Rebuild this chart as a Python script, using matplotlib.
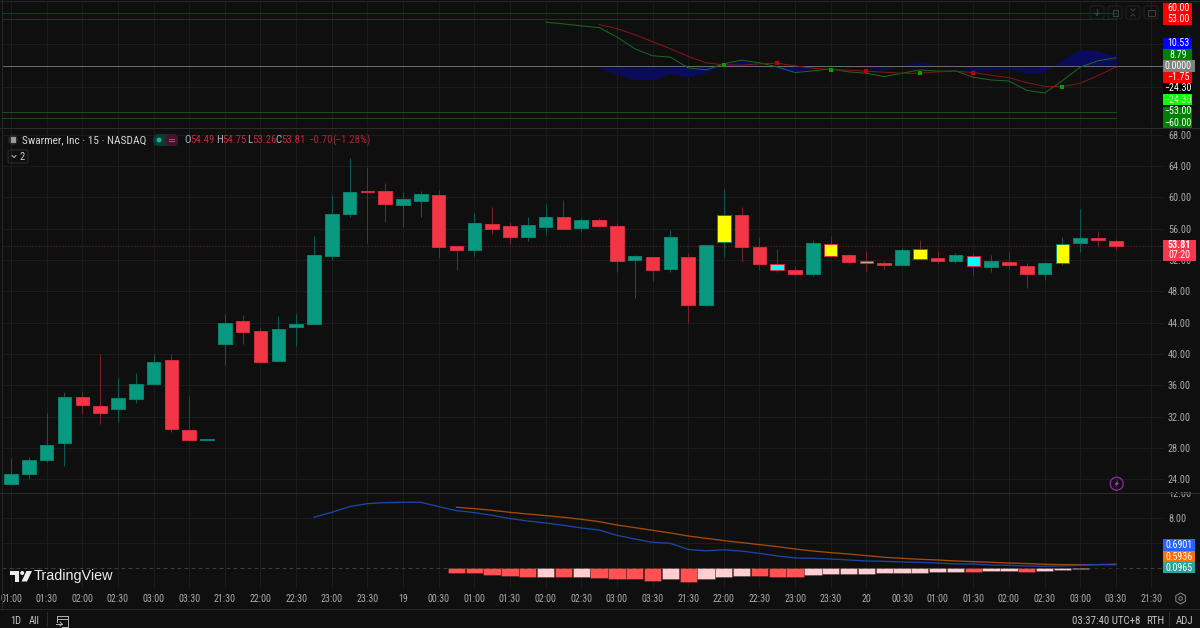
#! /usr/bin/env python3
import numpy as np
import matplotlib
matplotlib.use('Agg')
import matplotlib.pyplot as plt
from matplotlib.patches import Rectangle, Circle, Polygon, FancyBboxPatch

plt.rcParams['font.family'] = ['Roboto Condensed', 'Roboto', 'DejaVu Sans']

W, H = 1200, 628
BG = '#0f0f0f'
GRID = '#1c1c1c'
AXIS_TEXT = '#a9a9a9'
UP = '#089981'
DOWN = '#f23645'
THIN = 0.72  # one pixel at 100 dpi

# 15 minute candles
opens = [23.45, 24.72, 26.43, 28.68, 34.51, 33.32, 32.98, 34.26, 36.18, 39.20, 30.26, 29.02, 41.33,
         44.18, 42.99, 39.07, 43.41, 43.79, 52.56, 57.84, 60.78, 60.78, 59.03, 59.54, 60.35, 53.80,
         53.24, 56.65, 56.31, 54.90, 56.26, 57.46, 56.09, 57.16, 56.39, 51.97, 52.35, 50.86, 52.43,
         46.30, 54.26, 57.71, 53.63, 51.50, 50.73, 50.26, 54.01, 52.60, 51.88, 51.58, 51.41, 53.41,
         52.26, 51.84, 52.48, 51.16, 51.75, 51.24, 50.18, 51.67, 54.22, 54.86, 54.49]
highs = [26.68, 26.85, 32.47, 35.11, 35.11, 40.05, 36.94, 37.62, 40.05, 40.05, 34.60, 29.15, 45.12,
         45.03, 43.28, 44.86, 45.12, 55.03, 60.31, 65.08, 63.84, 61.88, 60.69, 60.82, 60.90, 53.92,
         58.01, 58.78, 56.82, 57.50, 59.16, 59.67, 57.33, 57.33, 56.69, 52.65, 52.35, 55.84, 52.94,
         53.97, 61.08, 58.78, 54.90, 53.46, 51.24, 54.56, 55.07, 52.73, 53.20, 51.92, 53.50, 54.56,
         53.20, 52.86, 52.86, 52.65, 53.03, 51.58, 51.71, 54.90, 58.48, 55.67, 54.75]
lows = [23.36, 24.04, 26.17, 25.75, 32.39, 31.11, 31.36, 33.75, 36.18, 30.05, 29.02, 29.02, 38.60,
        41.24, 38.99, 39.07, 41.07, 43.79, 52.01, 57.50, 54.14, 56.90, 56.22, 57.50, 52.26, 50.69,
        52.56, 55.33, 54.05, 54.43, 55.24, 56.01, 55.58, 56.18, 50.43, 47.11, 49.33, 50.52, 44.00,
        46.18, 52.35, 51.75, 50.69, 50.52, 50.09, 50.01, 52.56, 51.54, 50.60, 50.90, 51.37, 52.14,
        51.67, 51.67, 50.01, 50.52, 50.86, 48.43, 49.50, 51.37, 53.03, 53.63, 53.26]
closes = [24.72, 26.43, 28.34, 34.51, 33.49, 32.47, 34.43, 36.18, 39.03, 30.39, 29.02, 29.15, 44.01,
          42.86, 38.99, 43.24, 43.84, 52.69, 57.92, 60.69, 60.74, 59.12, 59.80, 60.44, 53.71, 53.28,
          56.73, 55.97, 54.99, 56.48, 57.46, 56.01, 57.16, 56.39, 51.88, 52.52, 50.69, 54.94, 46.31,
          53.97, 57.71, 53.63, 51.54, 50.69, 50.26, 54.22, 52.56, 51.79, 51.62, 51.41, 53.28, 52.14,
          51.84, 52.60, 51.20, 51.84, 51.41, 50.18, 51.58, 54.09, 54.77, 54.51, 53.81]
yellow_bars = [40, 46, 51, 59]
cyan_bars = [43, 54]
gray_bars = [48]
price_ticks = [68, 64, 60, 56, 52, 48, 44, 40, 36, 32, 28, 24]

# oscillator pane, lines start part way through the session
wave_start = 30
wave1 = [49.71, 47.78, 45.47, 43.55, 32.76, 19.27, 11.18, 9.63, -2.70, -5.01, 1.93, 6.17, 3.08,
         -1.54, -8.09, -6.17, -3.85, -7.32, -8.86, -12.72, -8.86, -5.01, -6.55, -6.17, -13.49,
         -16.57, -17.73, -28.52, -31.60, -17.34, -1.93, 5.39, 8.785]
wave2_start = 33
wave2 = [47.01, 42.39, 35.45, 27.36, 19.27, 10.40, 3.08, 0.77, 0.39, 1.93, 2.70, -0.39, -3.08,
         -4.62, -5.39, -6.55, -7.71, -8.86, -8.86, -7.32, -6.55, -8.09, -11.18, -13.87, -19.65,
         -23.89, -24.28, -20.42, -11.56, -1.745]
cross_up = [40, 46, 51, 59]
cross_down = [43, 48, 54]
osc_levels = [(60, '#5a1c1c'), (53, '#5a1c1c'), (-53, '#1c4a1c'), (-60, '#1c4a1c')]

# macd pane
macd_start = 17
macd = [8.16, 8.96, 9.87, 10.35, 10.51, 10.56, 10.56, 9.87, 9.23, 8.91, 8.48, 7.95, 7.57, 7.25,
        6.88, 6.45, 6.13, 5.28, 4.69, 4.16, 4.00, 3.01, 2.80, 2.96, 2.75, 2.40, 1.97, 1.65, 1.60,
        1.49, 1.33, 1.17, 1.12, 1.01, 0.96, 0.85, 0.69, 0.69, 0.53, 0.48, 0.37, 0.32, 0.37, 0.48,
        0.59, 0.6901]
signal_start = 25
signal = [9.76, 9.55, 9.28, 8.96, 8.69, 8.43, 8.16, 7.84, 7.47, 6.93, 6.51, 6.08, 5.65, 5.17,
          4.80, 4.43, 4.11, 3.79, 3.47, 3.09, 2.77, 2.51, 2.29, 2.03, 1.76, 1.60, 1.44, 1.33, 1.17,
          1.07, 0.96, 0.85, 0.75, 0.64, 0.59, 0.59, 0.59, 0.5936]
hist = [-0.69, -0.80, -1.07, -1.23, -1.33, -1.33, -1.44, -1.39, -1.50, -1.71, -1.71, -2.03, -1.76,
        -2.13, -1.76, -1.44, -1.28, -1.30, -1.39, -1.39, -1.12, -0.96, -0.85, -0.85, -0.69, -0.69,
        -0.69, -0.53, -0.53, -0.53, -0.43, -0.43, -0.59, -0.48, -0.21, -0.05, 0.06, 0.0965]
hist_dark = [25, 26, 27, 28, 29, 31, 33, 34, 35, 36, 38, 42, 43, 44, 54, 57]
macd_ticks = [12, 8, 4]

time_labels = ['01:00', '01:30', '02:00', '02:30', '03:00', '03:30', '21:30', '22:00', '22:30',
               '23:00', '23:30', '19', '00:30', '01:00', '01:30', '02:00', '02:30', '03:00',
               '03:30', '21:30', '22:00', '22:30', '23:00', '23:30', '20', '00:30', '01:00',
               '01:30', '02:00', '02:30', '03:00', '03:30', '21:30']


def px_axes(fig, left, top, right, bottom):
    ax = fig.add_axes([left / W, 1 - bottom / H, (right - left) / W, (bottom - top) / H])
    ax.set_facecolor(BG)
    for sp in ax.spines.values():
        sp.set_visible(False)
    ax.tick_params(length=0)
    # same candle spacing in every pane
    ax.set_xlim((left - 11) / 17.82, (right - 11) / 17.82)
    ax.set_axisbelow(True)
    ax.grid(True, color=GRID, lw=THIN)
    ax.set_xticks(np.arange(len(time_labels)) * 2)
    ax.set_xticklabels([])
    return ax


def draw_candles(ax):
    x = np.arange(len(opens))
    o, h, l, c = map(np.array, (opens, highs, lows, closes))
    up = c >= o
    ax.vlines(x[up], l[up], h[up], color='#0b5c50', lw=THIN, zorder=2)
    ax.vlines(x[~up], l[~up], h[~up], color='#7c1f2c', lw=THIN, zorder=2)
    fills = np.where(up, UP, DOWN).astype(object)
    fills[yellow_bars] = '#ffff00'
    fills[cyan_bars] = '#00ffff'
    fills[gray_bars] = '#b0b0b0'
    edges = np.where(up, '#0a7f6c', '#d02c3d')
    ax.bar(x, c - o, bottom=o, width=0.76, color=fills, edgecolor=edges, lw=THIN, zorder=3)


def chip(ui, x0, y0, x1, y1, color):
    ui.add_patch(Rectangle((x0, y0), x1 - x0, y1 - y0, color=color, lw=0, zorder=5))


def label(ui, x, y, s, color='#ffffff', size=7.2, ha='left', **kw):
    ui.text(x, y, s, color=color, fontsize=size, ha=ha, va='center', zorder=6, **kw)


def draw_oscillator(ax):
    ax.set_ylim((65 - 126) / 0.865, (65 - 2) / 0.865)
    ax.set_yticks([25, -25])
    ax.set_yticklabels([])
    w1 = np.array(wave1)
    w2 = np.array(wave2)
    x1 = np.arange(len(w1)) + wave_start
    x2 = np.arange(len(w2)) + wave2_start
    gap = w1[wave2_start - wave_start:] - w2
    ax.fill_between(x2, 0, gap, color='#0b0b5e', lw=0, zorder=2)
    last = len(opens) - 1
    for lvl, col in osc_levels:
        ax.plot([-1, last], [lvl, lvl], color=col, lw=THIN, zorder=2)
    ax.axhline(0, color='#6a6a6a', lw=THIN, zorder=3)
    ax.plot(x1, w1, color='#1a6a1e', lw=THIN, zorder=4)
    ax.plot(x2, w2, color='#851616', lw=THIN, zorder=5)
    at = lambda idx: w2[np.array(idx) - wave2_start]
    ax.scatter(cross_up, at(cross_up), s=6, marker='s', color='#00a000', lw=0, zorder=6)
    ax.scatter(cross_down, at(cross_down), s=6, marker='s', color='#c00000', lw=0, zorder=6)


def draw_macd(ax):
    ax.set_ylim((568.3 - 588) / 6.25, (568.3 - 492.3) / 6.25)
    ax.set_yticks(macd_ticks)
    # the 4.00 level sits behind the value chips
    ax.set_yticklabels(['%.2f' % v if v > 4 else '' for v in macd_ticks], color=AXIS_TEXT, fontsize=7.4)
    ax.yaxis.tick_right()
    ax.tick_params(axis='y', pad=3.6)
    ax.set_xticklabels(time_labels, color=AXIS_TEXT, fontsize=7.2)
    ax.tick_params(axis='x', pad=4.5)
    ax.axhline(0, color='#3c3c3c', lw=THIN, ls=(0, (4, 3)), zorder=1)
    xh = np.arange(len(hist)) + signal_start
    cols = []
    for i, v in zip(xh, hist):
        if v > 0:
            cols.append('#26a69a')
        elif i in hist_dark:
            cols.append('#ff5252')
        else:
            cols.append('#ffcdd2')
    ax.bar(xh, hist, width=0.97, color=cols, edgecolor='#00000055', lw=0.5, zorder=2)
    ax.plot(np.arange(len(signal)) + signal_start, signal, color='#a54a0a', lw=0.95, zorder=3)
    ax.plot(np.arange(len(macd)) + macd_start, macd, color='#1b45a8', lw=0.95, zorder=4)


def draw_ui(ui):
    # pane borders
    ui.plot([0, W], [127.5, 127.5], color='#2c2c2c', lw=THIN)
    ui.plot([0, W], [492.5, 492.5], color='#2c2c2c', lw=THIN)
    ui.plot([0, W], [608.5, 608.5], color='#2a2a2a', lw=THIN)
    ui.plot([1.5, 1.5], [0, 608], color='#262626', lw=THIN)
    ui.plot([0, W], [1, 1], color='#262626', lw=THIN)
    chip(ui, 1164, 486, 1200, 492, BG)

    # oscillator price chips
    chip(ui, 1163, 3, 1192, 25, '#ff0000')
    chip(ui, 1163, 38, 1192, 49, '#0000ff')
    chip(ui, 1163, 49, 1192, 60, '#008000')
    chip(ui, 1163, 60, 1195, 71.5, '#808080')
    chip(ui, 1163, 72, 1192, 83, '#ff0000')
    chip(ui, 1163, 83, 1192, 94, '#000000')
    chip(ui, 1163, 94, 1192, 105, '#00ff00')
    chip(ui, 1163, 107, 1192, 128, '#008000')
    for y, s, col in [(8, '60.00', 'w'), (19.3, '53.00', 'w'), (43.5, '10.53', 'w'),
                      (54.7, '8.79', 'w'), (66, '0.0000', 'w'), (77, '−1.75', 'w'),
                      (88.3, '−24.30', 'w'), (99.7, '−24.30', '#d8ffd8'), (111, '−53.00', 'w'),
                      (122.5, '−60.00', 'w')]:
        label(ui, 1178, y, s, color=col, ha='center')

    # pane toolbar
    for cx in (1097, 1115, 1133, 1151):
        ui.add_patch(FancyBboxPatch((cx - 7, 6), 14, 13, boxstyle='round,pad=0,rounding_size=2.5',
                                    fc='none', ec='#212121', lw=THIN, zorder=4))
    ui.plot([1097, 1097], [9, 15], color='#404040', lw=THIN)
    ui.plot([1095, 1097, 1099], [13, 15.5, 13], color='#404040', lw=THIN)
    ui.add_patch(Rectangle((1112.5, 9.5), 5, 6.5, fc='none', ec='#404040', lw=THIN))
    ui.plot([1131, 1133, 1135], [9, 11, 9], color='#404040', lw=THIN)
    ui.plot([1131, 1133, 1135], [16, 14, 16], color='#404040', lw=THIN)
    ui.add_patch(Rectangle((1147.5, 9.5), 7, 6, fc='none', ec='#404040', lw=THIN))

    # last price chip
    chip(ui, 1163, 240, 1196, 261, '#f7374f')
    label(ui, 1179.5, 245.5, '%.2f' % closes[-1], ha='center', fontweight='bold')
    label(ui, 1179.5, 255.5, '07:20', ha='center')

    # macd value chips
    chip(ui, 1163, 539, 1195, 551, '#2962ff')
    chip(ui, 1163, 551, 1195, 562, '#ff6d00')
    chip(ui, 1163, 562, 1195, 573, '#26a69a')
    label(ui, 1179, 545, '%.4f' % macd[-1], ha='center')
    label(ui, 1179, 556.5, '%.4f' % signal[-1], ha='center')
    label(ui, 1179, 568, '%.4f' % hist[-1], ha='center')

    # symbol legend
    ui.add_patch(Circle((13, 140), 5, fc='#2a2a2a', ec='none'))
    ui.add_patch(Rectangle((10.5, 137), 5, 5.5, fc='#9a9a9a', ec='none'))
    label(ui, 22, 140, 'Swarmer, Inc · 15 · NASDAQ', color='#d6d6d6', size=8.2)
    ui.add_patch(FancyBboxPatch((153, 134), 25, 12, boxstyle='round,pad=0,rounding_size=5.5',
                                fc='#0c3b34', ec='none'))
    ui.add_patch(FancyBboxPatch((165, 134), 13, 12, boxstyle='round,pad=0,rounding_size=5.5',
                                fc='#4a1030', ec='none'))
    ui.add_patch(Circle((159, 140), 2.5, fc='#0fb596', ec='none'))
    ui.plot([169, 174], [138.7, 138.7], color='#e0306a', lw=THIN)
    ui.plot([169, 174], [141, 141], color='#e0306a', lw=THIN)
    ohlc = [(184, 'O', 190, '%.2f' % opens[-1]), (216, 'H', 222, '%.2f' % highs[-1]),
            (247, 'L', 252.5, '%.2f' % lows[-1]), (275.5, 'C', 281, '%.2f' % closes[-1])]
    for x0, a, x1, b in ohlc:
        label(ui, x0, 140, a, color='#b0b0b0', size=7.8)
        label(ui, x1, 140, b, color='#c22a3c', size=7.8)
    label(ui, 308, 140, '−0.70', color='#a92636', size=7.8)
    label(ui, 332, 140, '(−1.28%)', color='#a92636', size=7.8)
    ui.add_patch(FancyBboxPatch((8, 150), 20, 13, boxstyle='round,pad=0,rounding_size=2',
                                fc='none', ec='#2e2e2e', lw=THIN))
    ui.plot([12, 14, 16], [155.5, 157.5, 155.5], color='#c0c0c0', lw=THIN)
    label(ui, 22, 156.5, '2', color='#d0d0d0', size=7.6, ha='center')

    # lightning badge
    ui.add_patch(Circle((1116.7, 483.7), 6.5, fc='none', ec='#8e2aa8', lw=0.9))
    ui.add_patch(Polygon([(1118.4, 479.8), (1114.4, 484.5), (1116.4, 484.5), (1115, 487.6),
                          (1119.2, 482.8), (1117.2, 482.8)], fc='#a33ac0', ec='none'))

    # watermark
    ui.add_patch(Polygon([(9.5, 571), (19.3, 571), (19.3, 581.5), (14.5, 581.5), (14.5, 575), (9.5, 575)],
                         fc='#ececec', ec='none'))
    ui.add_patch(Circle((22.2, 573), 2, fc='#ececec', ec='none'))
    ui.add_patch(Polygon([(26.5, 571), (32, 571), (27, 581.5), (21.5, 581.5)], fc='#ececec', ec='none'))
    ui.text(34, 576, 'TradingView', color='#ececec', fontsize=10.4, ha='left', va='center',
            family='Liberation Sans', zorder=6)

    # settings cog
    a = np.deg2rad(np.arange(30, 390, 60))
    ui.add_patch(Polygon(np.c_[1180.6 + 5.5 * np.cos(a), 598.5 + 5.5 * np.sin(a)], fc='none', ec='#8a8a8a', lw=THIN))
    ui.add_patch(Circle((1180.6, 598.5), 1.8, fc='none', ec='#8a8a8a', lw=THIN))

    # bottom bar
    label(ui, 16, 621, '1D', color='#c4c4c4', size=7.6, ha='center')
    label(ui, 34.5, 621, 'All', color='#c4c4c4', size=7.6, ha='center')
    ui.plot([46.5, 46.5], [612, 626], color='#2c2c2c', lw=THIN)
    ui.plot([68, 68, 56.5, 56.5], [621, 616, 616, 622], color='#b0b0b0', lw=THIN)
    ui.plot([56.5, 68], [618.5, 618.5], color='#b0b0b0', lw=THIN)
    ui.plot([68, 68, 62], [621, 626.5, 626.5], color='#b0b0b0', lw=THIN)
    ui.plot([56, 62], [624, 624], color='#b0b0b0', lw=THIN)
    ui.plot([60, 62, 60], [622, 624, 626], color='#b0b0b0', lw=THIN)
    label(ui, 1072, 621, '03:37:40 UTC+8', color='#c4c4c4', size=7.8)
    label(ui, 1146, 621, 'RTH', color='#c4c4c4', size=7.8)
    ui.plot([1168.5, 1168.5], [612, 626], color='#2c2c2c', lw=THIN)
    label(ui, 1176, 621, 'ADJ', color='#c4c4c4', size=7.8)


fig = plt.figure(figsize=(W / 100, H / 100), dpi=100, facecolor=BG)

ax_osc = px_axes(fig, 2, 2, 1163, 127)
draw_oscillator(ax_osc)

ax_main = px_axes(fig, 2, 128, 1163, 492.3)
ax_main.set_ylim(24 - 13 / 7.83, 24 + (479.3 - 128) / 7.83)
ax_main.set_yticks(price_ticks)
ax_main.set_yticklabels(['%.2f' % v for v in price_ticks], color=AXIS_TEXT, fontsize=7.4)
ax_main.yaxis.tick_right()
ax_main.tick_params(axis='y', pad=3.6)
ax_main.axhline(closes[-1], color='#7a2530', lw=THIN, ls=(0, (1, 2)), zorder=1)
draw_candles(ax_main)

ax_macd = px_axes(fig, 2, 492.3, 1163, 588)
draw_macd(ax_macd)

ui = fig.add_axes([0, 0, 1, 1], zorder=10)
ui.set_xlim(0, W)
ui.set_ylim(H, 0)
ui.axis('off')
ui.patch.set_alpha(0)
draw_ui(ui)

fig.savefig('out.png', dpi=100, facecolor=BG)
